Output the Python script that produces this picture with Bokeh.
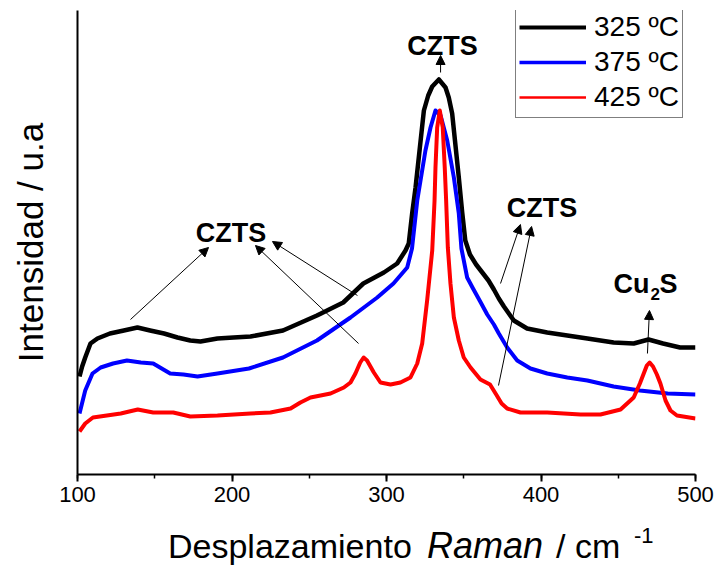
from bokeh.plotting import figure
from bokeh.layouts import column
from bokeh.models import (Range1d, SingleIntervalTicker, FixedTicker, Legend,
                          LegendItem, Label, Arrow, NormalHead, Div)
from bokeh.embed import file_html
from bokeh.resources import INLINE

# Raman spectra (shift in cm^-1, intensity in arbitrary units)
x_325 = [101.3, 103, 105, 108.4, 112.9, 121, 130, 138.8, 147, 156, 164.7, 173,
         179.6, 190.6, 201, 212, 233, 255, 272, 285, 298.3, 306.9, 312.3, 314.4,
         316.6, 318.8, 321.6, 324.2, 327, 329.6, 333.9, 338.2, 340.3, 342.5,
         346.8, 349, 351, 354, 358, 362, 366, 369.5, 372.7, 376, 382.4, 391, 404,
         417, 430, 447, 460, 469.6, 479, 490, 500]
y_325 = [98, 108, 117, 131, 136, 141, 144, 147, 144, 141, 137, 134,
         133, 136, 137, 138, 144, 159, 172, 191, 202, 211, 224, 231,
         261, 287, 327, 364, 379, 388, 395, 387, 377, 361,
         297, 262, 234, 220, 210, 202, 194, 185, 176, 168, 154, 146, 142,
         139, 136, 132, 131, 135, 131, 127, 127]

x_375 = [101.3, 105, 109.7, 115, 123, 132, 141, 149, 160, 168.6, 177.7, 190.6,
         211, 233, 255, 276.7, 294, 304.5, 313.4, 316.5, 319.9, 325.2, 328.5,
         331.7, 335, 339.3, 343.6, 346.8, 348.5, 352.2, 356, 361, 365.2, 369.5,
         372.7, 378.1, 384.6, 393.2, 404, 417, 430, 447, 464, 482, 500]
y_375 = [61, 84, 101, 107, 111, 114, 112, 111, 101, 100, 98, 101,
         106, 117, 134, 157, 177, 191, 207, 226, 274, 324, 347,
         364, 359, 334, 297, 261, 226, 197, 186, 172, 160, 150,
         141, 127, 114, 106, 101, 97, 94, 88, 84, 81, 80]

x_425 = [101.3, 105, 110, 119, 128, 139, 149, 162, 173, 190.6, 212, 224.9, 237.9,
         244.3, 250.8, 263.8, 272.4, 276.7, 279.9, 283, 285.2, 287.4, 291.8,
         296.1, 302.6, 309, 315.5, 319.9, 323.1, 326.3, 329.6, 331.1, 331.7, 332.8,
         334.5, 336.4, 337.7, 338.6, 339.7, 341.4, 343.6, 346.8, 350, 354.4, 360.8,
         367, 371, 374.5, 378.1, 386.7, 404, 425.6, 438.5, 451.5, 460, 464, 466.5,
         468.5, 470.3, 472.5, 475, 477.3, 480.6, 483.8, 488, 500]
y_425 = [43, 51, 57, 59, 61, 65, 62, 62, 58, 59, 61, 62, 66,
         72, 77, 81, 87, 92, 101, 112, 117, 114, 102,
         92, 90, 92, 97, 111, 131, 174, 224, 274, 307, 347,
         364, 347, 307, 274, 227, 191, 157, 134, 117, 107, 95,
         90, 80, 71, 66, 62, 62, 60, 60, 65, 77, 91, 101,
         109, 112, 108, 100, 91, 74, 64, 59, 56]

series_labels = ["325 ºC", "375 ºC", "425 ºC"]

# peak assignments: (text, x, y) and arrows (x_start, y_start, x_end, y_end)
peak_notes = [("CZTS", 336.2, 429), ("CZTS", 199.4, 242), ("CZTS", 400.6, 267)]
peak_arrows = [(335.0, 402, 335.0, 419),
               (134.3, 155, 184.8, 227),
               (281.2, 179, 226.2, 233),
               (281.9, 131, 215.2, 229),
               (373.8, 191, 386.7, 250),
               (372.5, 89, 393.9, 248),
               (468.9, 121, 470.2, 164)]

# x axis title pieces: plain, italic, plain, superscript
title_parts = ["Desplazamiento", "Raman", "/ cm", "-1"]

FONT = "Liberation Sans"

p = figure(width=716, height=516, output_backend="svg", toolbar_location=None,
           x_range=Range1d(100, 500), y_range=Range1d(0, 464),
           min_border_left=77, min_border_right=21, min_border_top=10,
           min_border_bottom=42)
p.grid.visible = False
p.outline_line_color = None
p.background_fill_color = "white"
p.border_fill_color = "white"

# bottom axis
xa = p.xaxis[0]
xa.ticker = SingleIntervalTicker(interval=100, num_minor_ticks=2)
xa.axis_line_width = 2
xa.major_tick_line_width = 2
xa.minor_tick_line_width = 1.5
xa.major_tick_in = 0
xa.major_tick_out = 7
xa.minor_tick_in = 0
xa.minor_tick_out = 4
xa.major_label_text_font = FONT
xa.major_label_text_font_size = "22px"
xa.major_label_text_color = "black"
xa.major_label_standoff = 5

# left axis: line and title only
ya = p.yaxis[0]
ya.ticker = FixedTicker(ticks=[])
ya.axis_line_width = 2
ya.axis_label = "Intensidad / u.a"
ya.axis_label_text_font = FONT
ya.axis_label_text_font_size = "35px"
ya.axis_label_text_font_style = "normal"
ya.axis_label_text_color = "black"
ya.axis_label_standoff = 28

p.line(x_325, y_325, line_color="black", line_width=4.5, line_join="round")
p.line(x_375, y_375, line_color="blue", line_width=4, line_join="round")
p.line(x_425, y_425, line_color="red", line_width=4, line_join="round")

# legend swatches with their own stroke widths (single point, so no visible line)
k325 = p.line(x_325[:1], y_325[:1], line_color="black", line_width=4)
k375 = p.line(x_375[:1], y_375[:1], line_color="blue", line_width=3.5)
k425 = p.line(x_425[:1], y_425[:1], line_color="red", line_width=2.5)

legend = Legend(items=[LegendItem(label=series_labels[0], renderers=[k325]),
                       LegendItem(label=series_labels[1], renderers=[k375]),
                       LegendItem(label=series_labels[2], renderers=[k425])],
                location=(438, 356), label_text_font=FONT,
                label_text_font_size="28px", label_text_color="black",
                glyph_width=67, glyph_height=34, label_height=34,
                label_standoff=8, padding=3, spacing=1, margin=0,
                border_line_color="black", border_line_width=1,
                background_fill_color="white", background_fill_alpha=1)
p.add_layout(legend)

for txt, lx, ly in peak_notes:
    p.add_layout(Label(x=lx, y=ly, text=txt, text_font=FONT, text_font_size="27px",
                       text_font_style="bold", text_align="center",
                       text_baseline="alphabetic", text_color="black"))

# Cu2S with subscript
p.add_layout(Label(x=446.9, y=191, text="Cu", text_font=FONT, text_font_size="27px",
                   text_font_style="bold", text_baseline="alphabetic",
                   text_color="black"))
p.add_layout(Label(x=470.9, y=181, text="2", text_font=FONT, text_font_size="17px",
                   text_font_style="bold", text_baseline="alphabetic",
                   text_color="black"))
p.add_layout(Label(x=476.7, y=191, text="S", text_font=FONT, text_font_size="27px",
                   text_font_style="bold", text_baseline="alphabetic",
                   text_color="black"))

for xs, ys, xe, ye in peak_arrows:
    p.add_layout(Arrow(end=NormalHead(size=9, fill_color="black", line_color="black",
                                      line_width=1),
                       x_start=xs, y_start=ys, x_end=xe, y_end=ye,
                       line_color="black", line_width=1))

# x axis title under the plot: mixed upright / italic / superscript runs
span = ('<span style="position:absolute;left:{}px;top:{}px;font-size:{}px;'
        'font-style:{};white-space:nowrap;line-height:normal">{}</span>')
runs = [(168, 11, 34, "normal"), (427, 9, 36, "italic"),
        (556, 11, 34, "normal"), (634, 7, 22, "normal")]
html = ('<div style="position:relative;width:716px;height:52px;'
        "font-family:'Liberation Sans';color:black\">"
        + "".join(span.format(lx, ty, fs, st, txt)
                  for (lx, ty, fs, st), txt in zip(runs, title_parts))
        + "</div>")
xtitle = Div(text=html, width=716, height=52, margin=(0, 0, 0, 0))

layout = column(p, xtitle, spacing=0)
open("out.html", "w").write(file_html(layout, INLINE))
